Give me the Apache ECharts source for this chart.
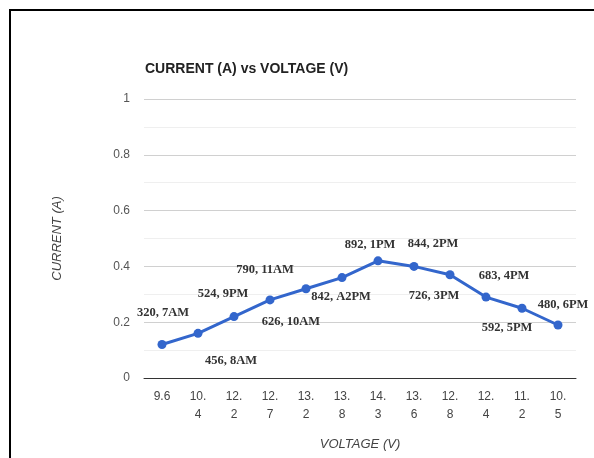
<!DOCTYPE html>
<html><head><meta charset="utf-8">
<script src="https://cdn.jsdelivr.net/npm/echarts@6/dist/echarts.min.js"></script>
<style>html,body{margin:0;padding:0;background:#fff}#c{width:594px;height:458px}</style>
</head><body><div id="c"></div>
<script>
const voltage = ['9.6','10.4','12.2','12.7','13.2','13.8','14.3','13.6','12.8','12.4','11.2','10.5'];
const current = [0.12,0.16,0.22,0.28,0.32,0.36,0.42,0.40,0.37,0.29,0.25,0.19];
const annotations = ['320, 7AM','456, 8AM','524, 9PM','626, 10AM','790, 11AM','842, A2PM','892, 1PM','844, 2PM','726, 3PM','683, 4PM','592, 5PM','480, 6PM'];
const yTicks = [0,0.2,0.4,0.6,0.8,1];
// label offsets (style only)
const labelOffsets = [[1,-32],[33,27],[-11,-23],[21,22],[-41,-19],[-1,19],[-8,-16],[19,-23],[-16,21],[18,-21],[-15,20],[5,-20]];

const chart = echarts.init(document.getElementById('c'));
chart.setOption({
  animation:false,
  title:{text:'CURRENT (A) vs VOLTAGE (V)',left:140,top:57,textStyle:{fontFamily:'Liberation Sans',fontSize:14,fontWeight:'bold',color:'#222'}},
  graphic:[{type:'rect',shape:{x:10,y:10,width:620,height:500},style:{fill:null,stroke:'#000',lineWidth:2}}],
  grid:{left:144,right:18,top:99,bottom:80},
  xAxis:{type:'category',data:voltage,boundaryGap:true,
    name:'VOLTAGE (V)',nameLocation:'middle',nameGap:60,
    nameTextStyle:{fontFamily:'Liberation Sans',fontStyle:'italic',fontSize:13,color:'#444'},
    axisLine:{lineStyle:{color:'#333',width:1}},axisTick:{show:false},
    axisLabel:{interval:0,margin:10,lineHeight:18,fontFamily:'Liberation Sans',fontSize:12,color:'#444',
      formatter:v=>v.length>3?v.slice(0,3)+'\n'+v.slice(3):v}},
  yAxis:{type:'value',min:0,max:1,interval:0.2,
    name:'CURRENT (A)',nameLocation:'middle',nameGap:80,
    nameTextStyle:{fontFamily:'Liberation Sans',fontStyle:'italic',fontSize:13,color:'#444'},
    axisLine:{show:false},axisTick:{show:false},
    axisLabel:{margin:14,fontFamily:'Liberation Sans',fontSize:12,color:'#555',
      formatter:v=>yTicks.includes(Math.round(v*10)/10)?String(Math.round(v*10)/10):''},
    splitLine:{lineStyle:{color:'#d0d0d0'}},
    minorTick:{show:false,splitNumber:2},
    minorSplitLine:{show:true,lineStyle:{color:'#efefef'}}},
  series:[{type:'line',data:current.map((v,i)=>({value:v,label:{offset:labelOffsets[i]}})),
    lineStyle:{color:'#3366cc',width:3},itemStyle:{color:'#3366cc'},
    symbol:'circle',symbolSize:9,
    label:{show:true,position:'inside',formatter:p=>annotations[p.dataIndex],
      fontFamily:'Liberation Serif',fontWeight:'bold',fontSize:12.5,color:'#333'}}]
});
</script></body></html>
